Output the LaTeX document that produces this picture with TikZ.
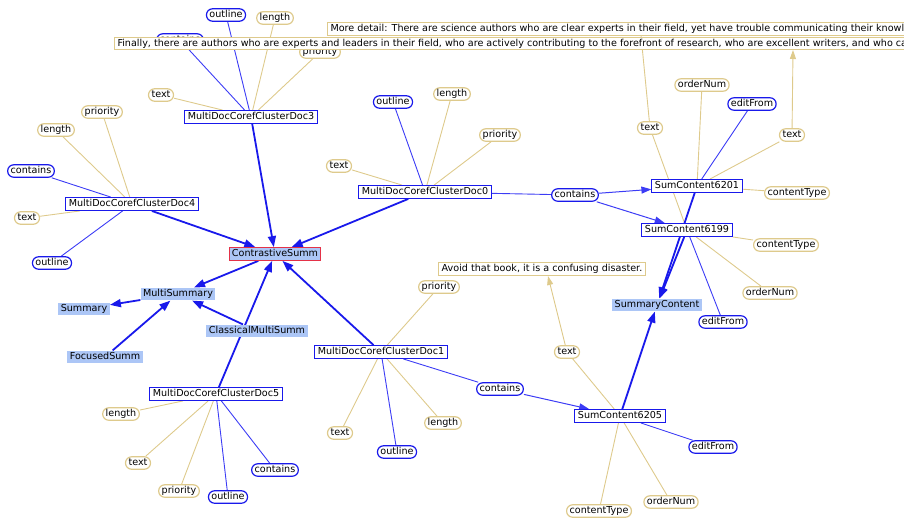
\documentclass[tikz,border=0pt]{standalone}
\usepackage{fontspec}
\setmainfont{DejaVu Sans}
\usetikzlibrary{arrows.meta,backgrounds}
\definecolor{ontoblue}{RGB}{25,25,235}
\definecolor{lineblue}{RGB}{60,60,245}
\definecolor{ontotan}{RGB}{222,202,140}
\definecolor{classfill}{RGB}{172,198,246}
\definecolor{focusred}{RGB}{228,50,72}

\begin{document}
\begin{tikzpicture}[x=1pt,y=-1pt,font=\fontsize{9.6}{11}\selectfont,
	inst/.style={draw=ontoblue,line width=1.1pt,fill=white,inner xsep=3pt,inner ysep=1.5pt,text height=7.5pt,text depth=2.3pt},
	cls/.style={fill=classfill,inner xsep=2.5pt,inner ysep=1.5pt,text height=7.5pt,text depth=2.3pt},
	dprop/.style={draw=ontotan,line width=1.2pt,fill=white,rounded corners=6pt,inner xsep=3pt,inner ysep=1.3pt,text height=7.5pt,text depth=2.3pt},
	oprop/.style={dprop,draw=ontoblue},
	valbox/.style={draw=ontotan,line width=1pt,fill=white,inner xsep=3pt,inner ysep=1.3pt,text height=7.5pt,text depth=2.3pt},
	tanline/.style={ontotan,line width=0.9pt},
	blueline/.style={lineblue,line width=0.9pt},
	tanarrow/.style={tanline,-{Triangle[length=9pt,width=6pt]}},
	rel/.style={lineblue,line width=1pt,-{Triangle[length=10pt,width=7pt]}},
	isa/.style={ontoblue,line width=1.8pt,-{Triangle[length=11pt,width=8pt]}}]
		\useasboundingbox (0,0) rectangle (904,517);
		
		\node[oprop] (d3contains) at (180,40) {contains};
		\node[dprop] (d3priority) at (320,52) {priority};
		\node[valbox,anchor=west] (moredetail) at (327,29) {More detail: There are science authors who are clear experts in their field, yet have trouble communicating their knowledge};
		\node[valbox,anchor=west] (finally) at (114,43.5) {Finally, there are authors who are experts and leaders in their field, who are actively contributing to the forefront of research, who are excellent writers, and who can};
		
		\node[inst] (doc3) at (251,117) {MultiDocCorefClusterDoc3};
		\node[oprop] (d3outline) at (226,15) {outline};
		\node[dprop] (d3length) at (275,18) {length};
		\node[dprop] (d3text) at (161,95) {text};
		
		\node[inst] (doc4) at (132,204) {MultiDocCorefClusterDoc4};
		\node[dprop] (d4priority) at (102,112) {priority};
		\node[dprop] (d4length) at (56,130) {length};
		\node[oprop] (d4contains) at (31,171) {contains};
		\node[dprop] (d4text) at (27,218) {text};
		\node[oprop] (d4outline) at (52,263) {outline};
		
		\node[inst] (doc0) at (425,192) {MultiDocCorefClusterDoc0};
		\node[oprop] (d0outline) at (393,102) {outline};
		\node[dprop] (d0length) at (452,94) {length};
		\node[dprop] (d0priority) at (500,135) {priority};
		\node[dprop] (d0text) at (339,166) {text};
		\node[oprop] (d0contains) at (575,195) {contains};
		
		\node[cls,draw=focusred,line width=1pt] (contrastive) at (275,254) {ContrastiveSumm};
		\node[cls] (multisumm) at (178,294) {MultiSummary};
		\node[cls] (summary) at (84,309) {Summary};
		\node[cls] (classical) at (257,331) {ClassicalMultiSumm};
		\node[cls] (focused) at (105,357) {FocusedSumm};
		\node[cls] (sumcontent) at (657,305) {SummaryContent};
		
		\node[inst] (doc5) at (216,394) {MultiDocCorefClusterDoc5};
		\node[dprop] (d5length) at (121,414) {length};
		\node[dprop] (d5text) at (138,463) {text};
		\node[dprop] (d5priority) at (179,491) {priority};
		\node[oprop] (d5outline) at (228,497) {outline};
		\node[oprop] (d5contains) at (275,470) {contains};
		
		\node[inst] (doc1) at (381,352) {MultiDocCorefClusterDoc1};
		\node[dprop] (d1priority) at (439,287) {priority};
		\node[dprop] (d1text) at (340,433) {text};
		\node[dprop] (d1length) at (443,423) {length};
		\node[oprop] (d1outline) at (397,452) {outline};
		\node[oprop] (d1contains) at (500,389) {contains};
		
		\node[valbox] (avoid) at (542,269) {Avoid that book, it is a confusing disaster.};
		
		\node[inst] (sc6205) at (620,416) {SumContent6205};
		\node[dprop] (c5text) at (567,352) {text};
		\node[oprop] (c5editfrom) at (713,447) {editFrom};
		\node[dprop] (c5ordernum) at (671,502) {orderNum};
		\node[dprop] (c5contenttype) at (599,511) {contentType};
		
		\node[inst] (sc6201) at (697,186) {SumContent6201};
		\node[dprop] (c1text) at (792,135) {text};
		\node[dprop] (c1ordernum) at (702,85) {orderNum};
		\node[oprop] (c1editfrom) at (752,104) {editFrom};
		\node[dprop] (c1contenttype) at (797,193) {contentType};
		
		\node[inst] (sc6199) at (687,230) {SumContent6199};
		\node[dprop] (c9text) at (650,128) {text};
		\node[dprop] (c9contenttype) at (786,245) {contentType};
		\node[dprop] (c9ordernum) at (770,293) {orderNum};
		\node[oprop] (c9editfrom) at (723,322) {editFrom};
		
		\coordinate (moreend) at (641,35.5);
		\coordinate (finallyend) at (793,50);
		\coordinate (avoidend) at (548,276);
		
		\begin{scope}[on background layer]
		\draw[blueline] (doc3) -- (d3outline);
		\draw[blueline] (doc3) -- (d3contains);
		\draw[tanline] (doc3) -- (d3length);
		\draw[tanline] (doc3) -- (d3priority);
		\draw[tanline] (doc3) -- (d3text);
		
		\draw[tanline] (doc4) -- (d4priority);
		\draw[tanline] (doc4) -- (d4length);
		\draw[blueline] (doc4) -- (d4contains);
		\draw[tanline] (doc4) -- (d4text);
		\draw[blueline] (doc4) -- (d4outline);
		
		\draw[blueline] (doc0) -- (d0outline);
		\draw[tanline] (doc0) -- (d0length);
		\draw[tanline] (doc0) -- (d0priority);
		\draw[tanline] (doc0) -- (d0text);
		\draw[blueline] (doc0) -- (d0contains);
		\draw[rel] (d0contains) -- (sc6201);
		\draw[rel] (d0contains) -- (sc6199);
		
		\draw[tanline] (doc5) -- (d5length);
		\draw[tanline] (doc5) -- (d5text);
		\draw[tanline] (doc5) -- (d5priority);
		\draw[blueline] (doc5) -- (d5outline);
		\draw[blueline] (doc5) -- (d5contains);
		
		\draw[tanline] (doc1) -- (d1priority);
		\draw[tanline] (doc1) -- (d1text);
		\draw[tanline] (doc1) -- (d1length);
		\draw[blueline] (doc1) -- (d1outline);
		\draw[blueline] (doc1) -- (d1contains);
		\draw[rel] (d1contains) -- (sc6205);
		
		\draw[tanline] (sc6205) -- (c5text);
		\draw[blueline] (sc6205) -- (c5editfrom);
		\draw[tanline] (sc6205) -- (c5ordernum);
		\draw[tanline] (sc6205) -- (c5contenttype);
		\draw[tanarrow] (c5text) -- (avoidend);
		
		\draw[tanline] (sc6201) -- (c1text);
		\draw[tanline] (sc6201) -- (c1ordernum);
		\draw[blueline] (sc6201) -- (c1editfrom);
		\draw[tanline] (sc6201) -- (c1contenttype);
		\draw[tanarrow] (c1text) -- (finallyend);
		
		\draw[tanline] (sc6199) -- (c9text);
		\draw[tanline] (sc6199) -- (c9contenttype);
		\draw[tanline] (sc6199) -- (c9ordernum);
		\draw[blueline] (sc6199) -- (c9editfrom);
		\draw[tanarrow] (c9text) -- (moreend);
		
		\draw[isa] (doc3) -- (contrastive);
		\draw[isa] (doc4) -- (contrastive);
		\draw[isa] (doc0) -- (contrastive);
		\draw[isa] (doc1) -- (contrastive);
		\draw[isa] (doc5) -- (contrastive);
		\draw[isa] (contrastive) -- (multisumm);
		\draw[isa] (multisumm) -- (summary);
		\draw[isa] (focused) -- (multisumm);
		\draw[isa] (classical) -- (multisumm);
		\draw[isa] (sc6201) -- (sumcontent);
		\draw[isa] (sc6199) -- (sumcontent);
		\draw[isa] (sc6205) -- (sumcontent);
		\end{scope}
\end{tikzpicture}
\end{document}
